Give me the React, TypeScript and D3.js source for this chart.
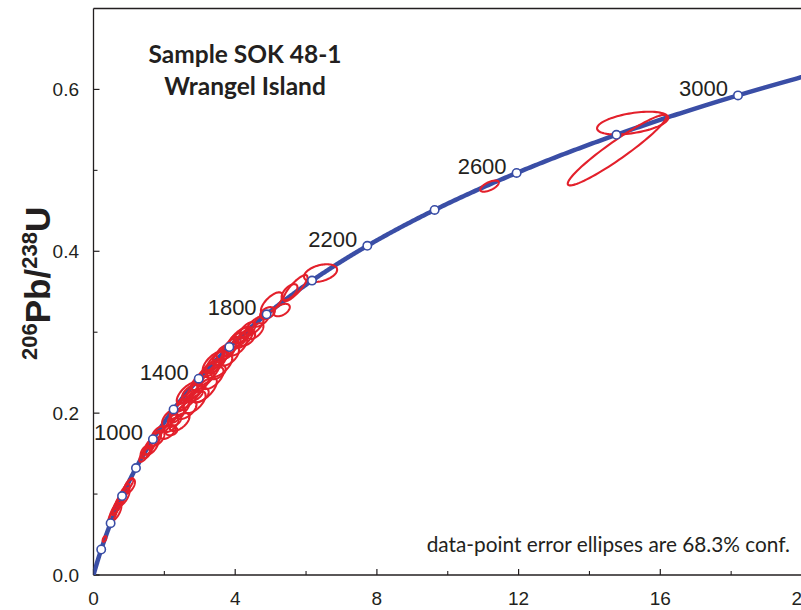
import React from "react";
import * as d3 from "d3";

// Decay constants (per year)
const LAMBDA238 = 1.55125e-10;
const LAMBDA235 = 9.8485e-10;

// Concordia age markers (Ma) and labelled ages
const markerAges = [200, 400, 600, 800, 1000, 1200, 1400, 1600, 1800, 2000, 2200, 2400, 2600, 2800, 3000];
const labelAges = [1000, 1400, 1800, 2200, 2600, 3000];

// Axis ticks
const xMajorTicks = [0, 4, 8, 12, 16, 20];
const xMinorTicks = [2, 6, 10, 14, 18];
const yMajorTicks = [0, 0.2, 0.4, 0.6];
const yMinorTicks = [0.1, 0.3, 0.5];

// Data-point error ellipses: 207Pb/235U, 206Pb/238U, 1-sigma errors, error correlation
const ellX = [0.311, 0.536, 0.649, 0.762, 0.875, 0.988, 0.706, 1.44, 1.581, 1.722, 1.807, 1.525, 2.202, 2.372, 2.513, 2.287, 2.428, 2.654, 2.795, 2.936, 3.077, 3.218, 3.331, 3.473, 3.614, 3.727, 3.896, 4.037, 4.207, 4.348, 2.851, 4.263, 4.545, 4.743, 5.03, 5.31, 4.912, 5.534, 5.7, 6.41, 11.18, 14.78, 15.22,
  2.089, 2.428, 2.626, 2.851, 3.134, 3.36, 3.614, 3.84, 4.065, 4.32, 4.574, 2.993, 3.473, 2.202,
  0.621, 0.847, 1.016, 1.637, 1.807, 1.468,
  2.654, 3.388, 4.122, 2.146];
const ellY = [0.0445, 0.0729, 0.084, 0.0926, 0.1025, 0.1112, 0.0877, 0.1482, 0.1581, 0.1668, 0.1754, 0.1519, 0.1853, 0.1977, 0.21, 0.1915, 0.2038, 0.2162, 0.2261, 0.231, 0.2409, 0.2483, 0.2557, 0.2631, 0.2705, 0.2755, 0.2829, 0.2903, 0.2965, 0.3027, 0.2211, 0.2928, 0.3076, 0.315, 0.336, 0.3274, 0.3237, 0.3496, 0.3545, 0.373, 0.4805, 0.525, 0.5584,
  0.1767, 0.189, 0.2038, 0.2137, 0.2285, 0.2434, 0.2582, 0.2705, 0.2829, 0.2928, 0.3014, 0.2224, 0.2508, 0.1779,
  0.0778, 0.0964, 0.1099, 0.1594, 0.1692, 0.1519,
  0.2248, 0.2631, 0.2928, 0.1939];
const ellSX = [0.0525, 0.123, 0.1346, 0.1347, 0.1467, 0.1338, 0.152, 0.147, 0.1667, 0.1848, 0.1637, 0.1231, 0.1966, 0.215, 0.2077, 0.1851, 0.2749, 0.3086, 0.2939, 0.3157, 0.3218, 0.3411, 0.2749, 0.2928, 0.2595, 0.2508, 0.2595, 0.2345, 0.2494, 0.2232, 0.2272, 0.2431, 0.2595, 0.2077, 0.304, 0.231, 0.2079, 0.2232, 0.338, 0.467, 0.26, 1.393, 1.005,
  0.2148, 0.2815, 0.2815, 0.3125, 0.3487, 0.3125, 0.304, 0.2678, 0.2678, 0.2422, 0.2232, 0.2588, 0.2588, 0.1638,
  0.1659, 0.1717, 0.1533, 0.199, 0.1959, 0.139,
  0.304, 0.304, 0.304, 0.2113];
const ellSY = [0.00345, 0.00884, 0.00992, 0.00876, 0.0098, 0.00854, 0.01105, 0.00837, 0.00944, 0.00909, 0.00806, 0.00771, 0.0086, 0.00941, 0.00809, 0.00688, 0.01064, 0.01245, 0.01045, 0.01381, 0.01248, 0.01493, 0.01064, 0.01378, 0.01136, 0.00933, 0.01136, 0.00924, 0.01019, 0.00977, 0.00702, 0.01203, 0.01136, 0.00809, 0.0133, 0.00771, 0.00728, 0.00977, 0.01615, 0.01098, 0.00688, 0.04358, 0.01405,
  0.00857, 0.01109, 0.01109, 0.01367, 0.01526, 0.01367, 0.0133, 0.01172, 0.01172, 0.00976, 0.00977, 0.00891, 0.00891, 0.00529,
  0.01115, 0.01098, 0.00878, 0.01072, 0.0094, 0.00789,
  0.0133, 0.0133, 0.0133, 0.01026];
const ellRho = [0.5, 0.77, 0.81, 0.7, 0.76, 0.79, 0.78, 0.73, 0.72, 0.66, 0.67, 0.64, 0.67, 0.72, 0.66, 0.29, 0.7, 0.77, 0.58, 0.8, 0.68, 0.75, 0.7, 0.69, 0.7, 0.45, 0.7, 0.59, 0.66, 0.6, 0.62, 0.7, 0.7, 0.66, 0.69, 0.47, 0.39, 0.6, 0.84, 0.38, 0.63, 0.95, 0.46,
  0.52, 0.59, 0.59, 0.6, 0.68, 0.6, 0.69, 0.6, 0.6, 0.47, 0.6, 0.42, 0.42, 0.26,
  0.66, 0.67, 0.56, 0.58, 0.52, 0.46,
  0.69, 0.69, 0.69, 0.59];

const titleLines = ["Sample SOK 48-1", "Wrangel Island"];
const noteText = "data-point error ellipses are 68.3% conf.";

const W = 801;
const H = 610;
const BLUE = "#3a4ea6";
const RED = "#e3202b";
const INK = "#231f20";

const x = d3.scaleLinear().domain([0, 20]).range([93.5, 802]);
const y = d3.scaleLinear().domain([0, 0.7]).range([575, 8.5]);

function concordia(tMa: number): [number, number] {
  const t = tMa * 1e6;
  return [Math.exp(LAMBDA235 * t) - 1, Math.exp(LAMBDA238 * t) - 1];
}

export default function App() {
  const tMax = Math.log(21) / LAMBDA235 / 1e6;
  const curvePts: [number, number][] = d3.range(0, tMax, 5).concat([tMax]).map((t) => concordia(t));
  const line = d3
    .line<[number, number]>()
    .x((d) => x(d[0]))
    .y((d) => y(d[1]))
    .curve(d3.curveLinear);

  const ellipsePath = (i: number) => {
    const pts: [number, number][] = d3.range(0, 361, 4).map((deg) => {
      const a = (deg * Math.PI) / 180;
      const r = ellRho[i];
      const px = ellX[i] + ellSX[i] * Math.cos(a);
      const py = ellY[i] + ellSY[i] * (r * Math.cos(a) + Math.sqrt(1 - r * r) * Math.sin(a));
      return [px, py];
    });
    return line(pts) + "Z";
  };

  const x0 = x(0);
  const y0 = y(0);
  const yTop = y(0.7);

  return (
    <svg
      width={W}
      height={H}
      viewBox={`0 0 ${W} ${H}`}
      style={{ position: "absolute", left: 0, top: 0, background: "#fff" }}
    >
      <defs>
        <clipPath id="plotClip">
          <rect x={x0} y={yTop} width={W - x0} height={y0 - yTop} />
        </clipPath>
      </defs>
      <rect x={0} y={0} width={W} height={H} fill="#fff" />

      {/* frame */}
      <line x1={x0} x2={W} y1={yTop} y2={yTop} stroke={INK} strokeWidth={1.3} />
      <line x1={x0} x2={x0} y1={yTop} y2={y0} stroke={INK} strokeWidth={1.3} />
      <line x1={x0} x2={W} y1={y0} y2={y0} stroke={INK} strokeWidth={1.3} />

      {/* y ticks */}
      {yMajorTicks.map((v) => (
        <g key={"ym" + v}>
          <line x1={x0} x2={x0 + 6} y1={y(v)} y2={y(v)} stroke={INK} strokeWidth={1.2} />
          <text x={79} y={y(v)} dy="0.36em" textAnchor="end" fontFamily="'Liberation Sans', Arial, sans-serif" fontSize={19} fill={INK}>
            {d3.format(".1f")(v)}
          </text>
        </g>
      ))}
      {yMinorTicks.map((v) => (
        <line key={"yn" + v} x1={x0} x2={x0 + 4} y1={y(v)} y2={y(v)} stroke={INK} strokeWidth={1.1} />
      ))}

      {/* x ticks */}
      {xMajorTicks.map((v) => (
        <g key={"xm" + v}>
          <line x1={x(v)} x2={x(v)} y1={y0} y2={y0 - 6} stroke={INK} strokeWidth={1.2} />
          <text x={x(v)} y={605} textAnchor="middle" fontFamily="'Liberation Sans', Arial, sans-serif" fontSize={19} fill={INK}>
            {v}
          </text>
        </g>
      ))}
      {xMinorTicks.map((v) => (
        <line key={"xn" + v} x1={x(v)} x2={x(v)} y1={y0} y2={y0 - 4} stroke={INK} strokeWidth={1.1} />
      ))}

      {/* concordia */}
      <g clipPath="url(#plotClip)">
        <path d={line(curvePts) || ""} fill="none" stroke={BLUE} strokeWidth={4.5} strokeLinecap="round" />
        {ellX.map((_, i) => (
          <path key={"e" + i} d={ellipsePath(i)} fill="none" stroke={RED} strokeWidth={2.1} strokeLinejoin="round" />
        ))}
        {markerAges.map((a) => {
          const [cx, cy] = concordia(a);
          return <circle key={"m" + a} cx={x(cx)} cy={y(cy)} r={4.2} fill="#fff" stroke={BLUE} strokeWidth={1.6} />;
        })}
      </g>

      {/* age labels */}
      {labelAges.map((a) => {
        const [cx, cy] = concordia(a);
        return (
          <text key={"l" + a} x={x(cx) - 10} y={y(cy) + 1} textAnchor="end" fontFamily="'Liberation Sans', Arial, sans-serif" fontSize={22} fill={INK}>
            {a}
          </text>
        );
      })}

      {/* title */}
      {titleLines.map((t, i) => (
        <text key={"t" + i} x={245} y={63 + i * 32} textAnchor="middle" fontFamily="Lato, 'Open Sans', sans-serif" fontWeight="bold" fontSize={24.5} fill={INK}>
          {t}
        </text>
      ))}

      {/* note */}
      <text x={790} y={552} textAnchor="end" fontFamily="Lato, 'Open Sans', sans-serif" fontSize={20.8} fill={INK}>
        {noteText}
      </text>

      {/* y axis title */}
      <text
        transform="translate(50,360) rotate(-90)"
        fontFamily="'Liberation Sans', Arial, sans-serif"
        fontWeight="bold"
        fill={INK}
      >
        <tspan fontSize={22} dy={-13}>206</tspan>
        <tspan fontSize={35} dy={13}>Pb/</tspan>
        <tspan fontSize={22} dy={-13}>238</tspan>
        <tspan fontSize={35} dy={13}>U</tspan>
      </text>
    </svg>
  );
}
